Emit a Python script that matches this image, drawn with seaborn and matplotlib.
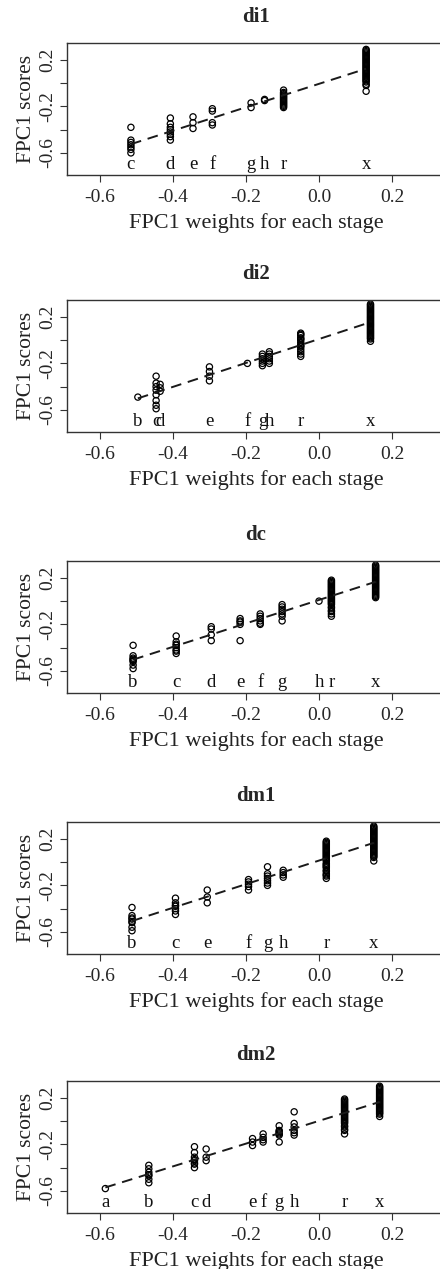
import numpy as np
import pandas as pd
import seaborn as sns
import matplotlib.pyplot as plt

# panel names
panels = ["di1", "di2", "dc", "dm1", "dm2"]

# di1
di1_stages = ["c", "d", "e", "f", "g", "h", "r", "x"]
di1_weights = [-0.515, -0.407, -0.345, -0.292, -0.186, -0.149, -0.097, 0.129]
di1_scores = [
    [-0.38, -0.49, -0.51, -0.53, -0.55, -0.57, -0.60],
    [-0.30, -0.35, -0.38, -0.40, -0.42, -0.44, -0.46, -0.49],
    [-0.29, -0.34, -0.39],
    [-0.22, -0.24, -0.34, -0.36],
    [-0.17, -0.21],
    [-0.14, -0.15],
    [-0.06, -0.08, -0.09, -0.10, -0.11, -0.12, -0.13, -0.14, -0.15, -0.16, -0.17, -0.18, -0.19, -0.20, -0.21],
    [0.29, 0.28, 0.27, 0.26, 0.25, 0.24, 0.23, 0.22, 0.21, 0.20, 0.19, 0.18, 0.17, 0.16, 0.15, 0.14,
     0.13, 0.12, 0.11, 0.10, 0.09, 0.08, 0.07, 0.06, 0.05, 0.04, 0.03, 0.02, 0.01, -0.01, -0.02, -0.07],
]

# di2
di2_stages = ["b", "c", "d", "e", "f", "g", "h", "r", "x"]
di2_weights = [-0.496, -0.446, -0.435, -0.300, -0.196, -0.155, -0.136, -0.050, 0.141]
di2_scores = [
    [-0.49],
    [-0.31, -0.37, -0.40, -0.43, -0.47, -0.52, -0.56, -0.59],
    [-0.38, -0.41, -0.44],
    [-0.23, -0.27, -0.31, -0.35],
    [-0.20],
    [-0.12, -0.14, -0.16, -0.18, -0.20, -0.22],
    [-0.10, -0.12, -0.14, -0.16, -0.18, -0.20],
    [0.06, 0.05, 0.04, 0.02, 0.01, 0.00, -0.02, -0.04, -0.05, -0.06, -0.08, -0.10, -0.12, -0.14],
    [0.31, 0.30, 0.29, 0.28, 0.27, 0.26, 0.25, 0.24, 0.23, 0.22, 0.21, 0.20, 0.19, 0.18, 0.17, 0.16,
     0.15, 0.14, 0.13, 0.12, 0.11, 0.10, 0.09, 0.08, 0.07, 0.06, 0.05, 0.04, 0.03, 0.02, 0.01, -0.01],
]

# dc
dc_stages = ["b", "c", "d", "e", "f", "g", "h", "r", "x"]
dc_weights = [-0.509, -0.391, -0.295, -0.216, -0.161, -0.101, 0.000, 0.034, 0.155]
dc_scores = [
    [-0.38, -0.47, -0.49, -0.50, -0.51, -0.52, -0.55, -0.58],
    [-0.30, -0.35, -0.37, -0.38, -0.40, -0.42, -0.43, -0.45],
    [-0.22, -0.24, -0.29, -0.34],
    [-0.15, -0.17, -0.18, -0.20, -0.34],
    [-0.11, -0.13, -0.15, -0.17, -0.19, -0.20],
    [-0.03, -0.05, -0.07, -0.09, -0.11, -0.13, -0.17],
    [0.00],
    [0.18, 0.17, 0.16, 0.15, 0.14, 0.13, 0.12, 0.11, 0.10, 0.09, 0.08, 0.07, 0.06, 0.05, 0.04, 0.03,
     0.02, 0.01, 0.00, -0.01, -0.02, -0.03, -0.05, -0.06, -0.08, -0.09, -0.11, -0.13],
    [0.31, 0.30, 0.29, 0.28, 0.27, 0.26, 0.25, 0.24, 0.23, 0.22, 0.21, 0.20, 0.19, 0.18, 0.17, 0.16,
     0.15, 0.14, 0.13, 0.12, 0.11, 0.10, 0.09, 0.08, 0.07, 0.06, 0.05, 0.04, 0.03],
]

# dm1
dm1_stages = ["b", "c", "e", "f", "g", "h", "r", "x"]
dm1_weights = [-0.512, -0.393, -0.306, -0.193, -0.141, -0.098, 0.020, 0.150]
dm1_scores = [
    [-0.39, -0.46, -0.48, -0.49, -0.51, -0.52, -0.56, -0.59],
    [-0.31, -0.35, -0.37, -0.38, -0.40, -0.42, -0.45],
    [-0.24, -0.30, -0.35],
    [-0.15, -0.17, -0.19, -0.21, -0.24],
    [-0.04, -0.10, -0.12, -0.14, -0.16, -0.18, -0.20],
    [-0.07, -0.09, -0.11, -0.13],
    [0.18, 0.17, 0.16, 0.15, 0.14, 0.13, 0.12, 0.11, 0.10, 0.09, 0.08, 0.07, 0.06, 0.05, 0.04, 0.03,
     0.02, 0.01, -0.01, -0.02, -0.03, -0.04, -0.05, -0.07, -0.08, -0.10, -0.11, -0.12, -0.14],
    [0.31, 0.30, 0.29, 0.28, 0.27, 0.26, 0.25, 0.24, 0.23, 0.22, 0.21, 0.20, 0.19, 0.18, 0.17, 0.16,
     0.15, 0.14, 0.13, 0.12, 0.11, 0.10, 0.09, 0.08, 0.07, 0.06, 0.05, 0.04, 0.01],
]

# dm2
dm2_stages = ["a", "b", "c", "d", "e", "f", "g", "h", "r", "x"]
dm2_weights = [-0.585, -0.466, -0.341, -0.309, -0.182, -0.153, -0.109, -0.068, 0.070, 0.166]
dm2_scores = [
    [-0.58],
    [-0.38, -0.41, -0.44, -0.46, -0.47, -0.50, -0.53],
    [-0.22, -0.27, -0.31, -0.33, -0.34, -0.36, -0.37, -0.40],
    [-0.24, -0.31, -0.34],
    [-0.15, -0.18, -0.21],
    [-0.11, -0.14, -0.16, -0.18],
    [-0.04, -0.08, -0.09, -0.10, -0.11, -0.12, -0.18],
    [0.08, -0.02, -0.05, -0.08, -0.10, -0.12],
    [0.19, 0.18, 0.17, 0.16, 0.15, 0.14, 0.13, 0.12, 0.11, 0.10, 0.09, 0.08, 0.07, 0.06, 0.05, 0.04,
     0.03, 0.02, 0.01, 0.00, -0.01, -0.02, -0.04, -0.05, -0.07, -0.08, -0.11],
    [0.30, 0.29, 0.28, 0.27, 0.26, 0.25, 0.24, 0.23, 0.22, 0.21, 0.20, 0.19, 0.18, 0.17, 0.16, 0.15,
     0.14, 0.13, 0.12, 0.11, 0.10, 0.09, 0.08, 0.07, 0.06, 0.04],
]

x_ticks = [-0.6, -0.4, -0.2, 0.0, 0.2]
x_ticklabels = ["-0.6", "-0.4", "-0.2", "0.0", "0.2"]
y_ticks = [0.2, 0.0, -0.2, -0.4, -0.6]
y_ticklabels = ["0.2", "", "-0.2", "", "-0.6"]

panel_data = {
    "di1": (di1_stages, di1_weights, di1_scores),
    "di2": (di2_stages, di2_weights, di2_scores),
    "dc": (dc_stages, dc_weights, dc_scores),
    "dm1": (dm1_stages, dm1_weights, dm1_scores),
    "dm2": (dm2_stages, dm2_weights, dm2_scores),
}

sns.set_theme(style="ticks")
plt.rcParams["font.family"] = ["Liberation Serif", "DejaVu Serif"]

W, H = 440, 1269
fig = plt.figure(figsize=(W / 100, H / 100), dpi=100)

box_tops = [43, 300, 561, 822, 1081]
box_h = 132
box_left, box_w = 67, 378

for name, top in zip(panels, box_tops):
    stages, weights, scores = panel_data[name]
    rows = []
    for st, w, sc in zip(stages, weights, scores):
        for s in sc:
            rows.append({"stage": st, "weight": w, "score": s})
    df = pd.DataFrame(rows)

    ax = fig.add_axes([box_left / W, 1 - (top + box_h) / H, box_w / W, box_h / H])
    sns.regplot(data=df, x="weight", y="score", ax=ax, ci=None, truncate=True,
                scatter_kws={"color": "black", "facecolors": "none", "s": 20,
                             "linewidths": 0.9, "alpha": 1},
                line_kws={"color": "#1a1a1a", "linewidth": 1.4, "dashes": (5.5, 3.5)})

    for st, w in zip(stages, weights):
        ax.text(w, -0.70, st, ha="center", va="center", fontsize=13.5, color="#111111")

    ax.set_xlim(-0.69, 0.345)
    ax.set_ylim(-0.79, 0.345)
    ax.set_xticks(x_ticks)
    ax.set_xticklabels(x_ticklabels, fontsize=14)
    ax.set_yticks(y_ticks)
    ax.set_yticklabels(y_ticklabels, fontsize=14, rotation=90, va="center")
    ax.tick_params(direction="out", length=5, width=0.8, color="#333333", pad=5)
    ax.tick_params(axis="y", pad=3)
    for sp in ax.spines.values():
        sp.set_visible(True)
        sp.set_linewidth(1.0)
        sp.set_color("#333333")
    ax.set_xlabel("FPC1 weights for each stage", fontsize=16, color="#222222", labelpad=5)
    ax.set_ylabel("FPC1 scores", fontsize=15.5, color="#222222", labelpad=2)
    ax.set_title(name, fontsize=15, fontweight="bold", pad=15)

fig.savefig("out.png", dpi=100)
